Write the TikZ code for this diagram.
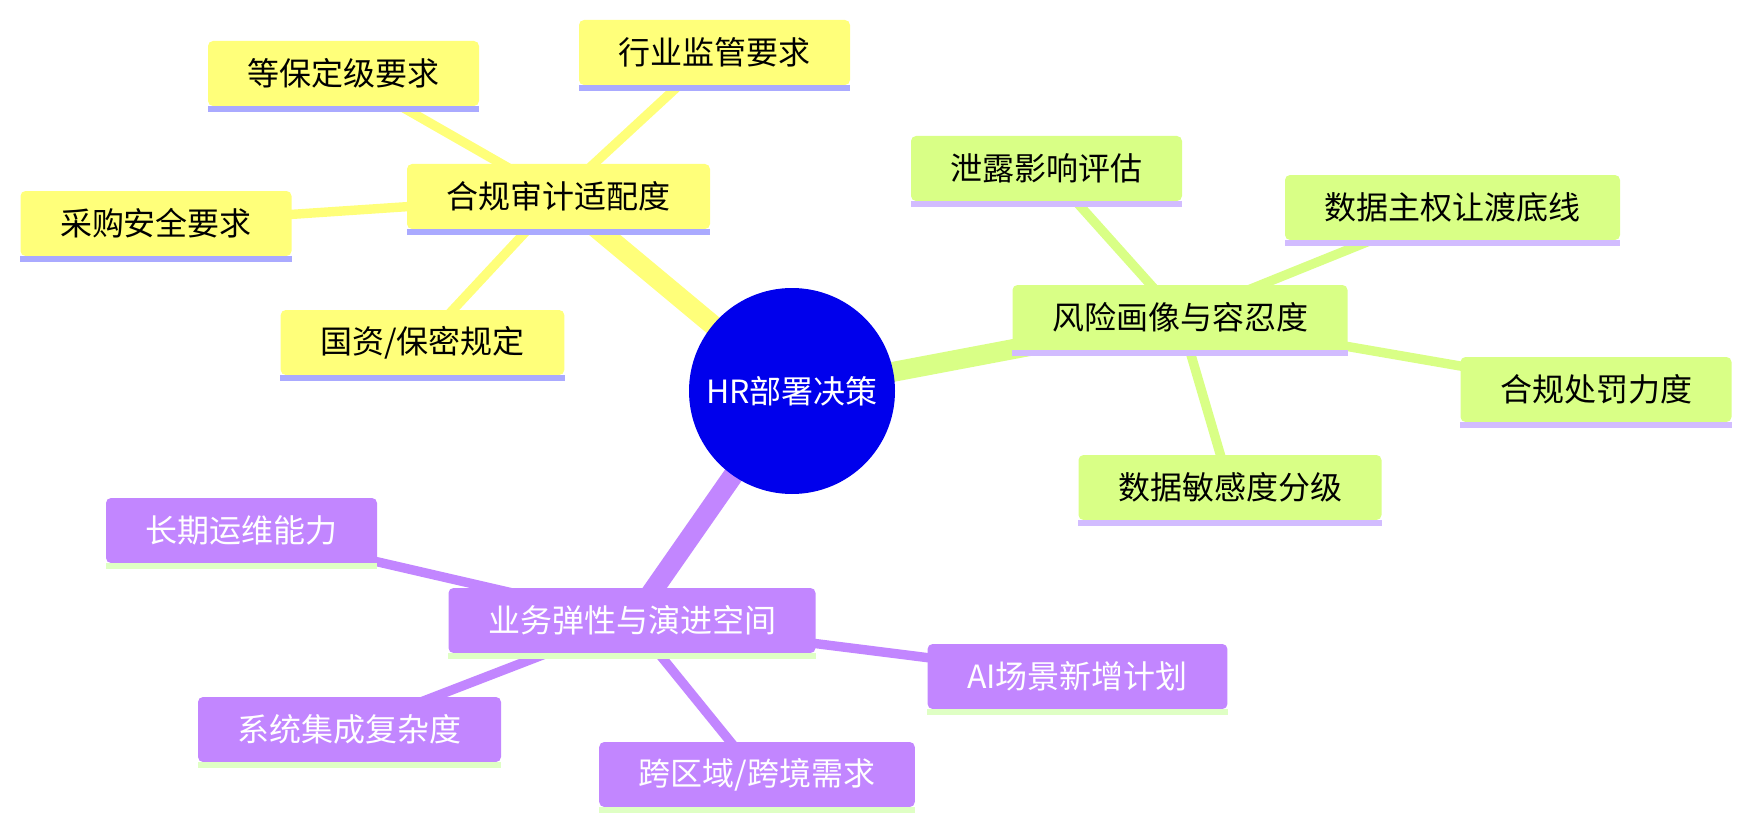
\documentclass[tikz,border=0pt]{standalone}
\usepackage{fontspec}
\setmainfont{Noto Sans CJK SC}
\usetikzlibrary{backgrounds}
\definecolor{rootblue}{HTML}{0000EC}
\definecolor{ylw}{HTML}{FFFF7A}
\definecolor{ylwbar}{HTML}{AAAAFF}
\definecolor{grn}{HTML}{D9FF86}
\definecolor{grnbar}{HTML}{D2BCFF}
\definecolor{prp}{HTML}{C286FF}
\definecolor{prpbar}{HTML}{DFFFC4}
\tikzset{
  mmfont/.style={font=\fontsize{16pt}{19pt}\selectfont},
  mmbox/.style={mmfont, rounded corners=2.5pt, minimum height=32.5pt, inner xsep=19.75pt, inner ysep=0pt, anchor=center},
  ybox/.style={mmbox, fill=ylw, text=black},
  gbox/.style={mmbox, fill=grn, text=black},
  pbox/.style={mmbox, fill=prp, text=white},
  rootnode/.style={mmfont, circle, fill=rootblue, text=white, minimum size=103pt, inner sep=0pt},
  rootedge/.style={line width=10pt},
  childedge/.style={line width=4.7pt},
}
\newcommand{\mmbar}[2]{\fill[#2] (#1.south west) rectangle ([yshift=-3pt]#1.south east);}
\begin{document}
\begin{tikzpicture}[x=0.5pt,y=-0.5pt]
\useasboundingbox (0,0) rectangle (1751,829);
\node[rootnode] (root) at (792,391) {HR部署决策};
% yellow
\node[ybox] (y0) at (558.5,196.5) {合规审计适配度};
\node[ybox] (y1) at (343.5,73.5) {等保定级要求};
\node[ybox] (y2) at (714.5,52.5) {行业监管要求};
\node[ybox] (y3) at (156,223.5) {采购安全要求};
\node[ybox] (y4) at (422.5,342.5) {国资/保密规定};
% green
\node[gbox] (g0) at (1180,317.5) {风险画像与容忍度};
\node[gbox] (g1) at (1046.5,168.5) {泄露影响评估};
\node[gbox] (g2) at (1452.5,207.5) {数据主权让渡底线};
\node[gbox] (g3) at (1596,389.5) {合规处罚力度};
\node[gbox] (g4) at (1230,487.5) {数据敏感度分级};
% purple
\node[pbox] (p0) at (632,620.5) {业务弹性与演进空间};
\node[pbox] (p1) at (241.5,530.5) {长期运维能力};
\node[pbox] (p2) at (349.5,729.5) {系统集成复杂度};
\node[pbox] (p3) at (757,774.5) {跨区域/跨境需求};
\node[pbox] (p4) at (1077.5,676.5) {AI场景新增计划};
\mmbar{y0}{ylwbar}\mmbar{y1}{ylwbar}\mmbar{y2}{ylwbar}\mmbar{y3}{ylwbar}\mmbar{y4}{ylwbar}
\mmbar{g0}{grnbar}\mmbar{g1}{grnbar}\mmbar{g2}{grnbar}\mmbar{g3}{grnbar}\mmbar{g4}{grnbar}
\mmbar{p0}{prpbar}\mmbar{p1}{prpbar}\mmbar{p2}{prpbar}\mmbar{p3}{prpbar}\mmbar{p4}{prpbar}
\begin{scope}[on background layer]
\draw[rootedge, ylw] (root.center) -- (y0.center);
\draw[rootedge, grn] (root.center) -- (g0.center);
\draw[rootedge, prp] (root.center) -- (p0.center);
\foreach \c in {y1,y2,y3,y4} \draw[childedge, ylw] (y0.center) -- (\c.center);
\foreach \c in {g1,g2,g3,g4} \draw[childedge, grn] (g0.center) -- (\c.center);
\foreach \c in {p1,p2,p3,p4} \draw[childedge, prp] (p0.center) -- (\c.center);
\end{scope}
\end{tikzpicture}
\end{document}
